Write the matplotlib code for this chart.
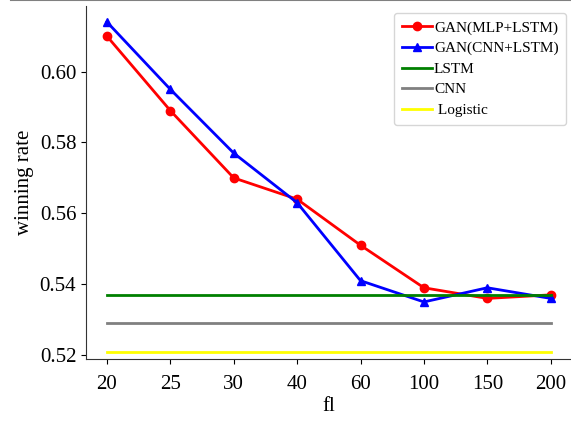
import matplotlib.pyplot as plt
from matplotlib.lines import Line2D

fl_labels = ['20', '25', '30', '40', '60', '100', '150', '200']
gan_mlp_lstm = [0.610, 0.589, 0.570, 0.564, 0.551, 0.539, 0.536, 0.537]
gan_cnn_lstm = [0.614, 0.595, 0.577, 0.563, 0.541, 0.535, 0.539, 0.536]
lstm_rate = 0.537
cnn_rate = 0.529
logistic_rate = 0.521
y_ticks = [0.52, 0.54, 0.56, 0.58, 0.60]

plt.rcParams['font.family'] = ['Liberation Serif', 'DejaVu Serif']

fig = plt.figure(figsize=(5.71, 4.24), dpi=100)
ax = fig.add_axes([0.1506, 0.1533, 0.8494, 0.8325])

x = list(range(len(fl_labels)))
ax.plot(x, gan_mlp_lstm, color='red', marker='o', markersize=6, linewidth=2, label='GAN(MLP+LSTM)')
ax.plot(x, gan_cnn_lstm, color='blue', marker='^', markersize=6, linewidth=2, label='GAN(CNN+LSTM)')
ax.plot(x, [lstm_rate] * len(x), color='green', linewidth=2, label='LSTM')
ax.plot(x, [cnn_rate] * len(x), color='grey', linewidth=2, label='CNN')
ax.plot(x, [logistic_rate] * len(x), color='yellow', linewidth=2, label=' Logistic')

ax.set_xticks(x)
ax.set_xticklabels(fl_labels)
ax.set_yticks(y_ticks)
ax.set_yticklabels(['%.2f' % v for v in y_ticks])
ax.set_xlim(-0.33, 7.32)
ax.set_ylim(0.5189, 0.6185)
ax.tick_params(labelsize=15)
ax.tick_params(axis='x', pad=8)
ax.set_xlabel('fl', fontsize=15, labelpad=2)
ax.set_ylabel('winning rate', fontsize=15)

ax.spines['top'].set_visible(False)
ax.spines['right'].set_visible(False)
for s in ['left', 'bottom']:
    ax.spines[s].set_color('#333333')

ax.legend(loc='upper right', bbox_to_anchor=(0.99, 0.98), borderaxespad=0, fontsize=11,
          handlelength=2.0, handletextpad=0.1, labelspacing=0.45, borderpad=0.5)

# thin grey border at the top of the original image
fig.add_artist(Line2D([0.02, 1.0], [0.999, 0.999], color='grey', linewidth=1.5, transform=fig.transFigure))

fig.savefig('out.png', dpi=100)
